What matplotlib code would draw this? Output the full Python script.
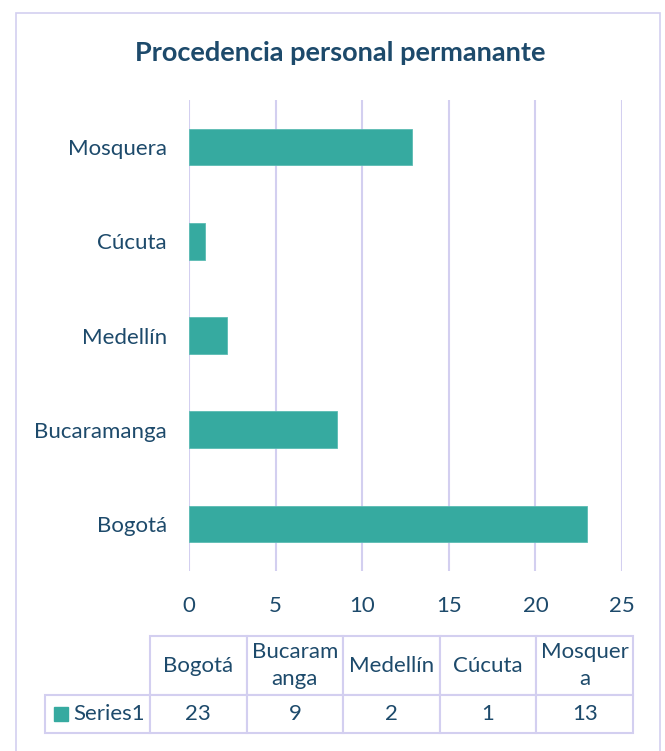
import matplotlib
matplotlib.use("Agg")
import matplotlib.pyplot as plt
from matplotlib.patches import Rectangle
from matplotlib.table import Table

# data (bars, table shows rounded values)
cities = ["Bogotá", "Bucaramanga", "Medellín", "Cúcuta", "Mosquera"]
values = [23.0, 8.55, 2.2, 0.92, 12.85]
header_labels = ["Bogotá", "Bucaram\nanga", "Medellín", "Cúcuta", "Mosquer\na"]
series_name = "Series1"
title = "Procedencia personal permanante"
xticks = [0, 5, 10, 15, 20, 25]

bar_color = "#36AAA0"
text_color = "#1D4A6B"
line_color = "#D3CFF0"
plt.rcParams["font.family"] = ["Lato", "DejaVu Sans"]

W, H = 665, 751
fig = plt.figure(figsize=(W / 100, H / 100), dpi=100)

# outer chart border
fig.patches.append(Rectangle((16 / W, -0.05), (660 - 16) / W, 1.05 - 13 / H,
                             transform=fig.transFigure, fill=False,
                             edgecolor=line_color, lw=1.2))

fig.text(340 / W, 1 - 53 / H, title, ha="center", va="center",
         fontsize=19.5, fontweight="bold", color=text_color)

ax = fig.add_axes([189 / W, 1 - 571 / H, (622 - 189) / W, (571 - 100) / H])
ax.barh(range(len(cities)), values, height=0.39, color=bar_color,
        edgecolor="#5BBCB3", lw=0.6, zorder=3)
ax.set_xlim(0, 25)
ax.set_ylim(-0.5, len(cities) - 0.5)
ax.set_xticks(xticks)
ax.set_yticks(range(len(cities)))
ax.set_yticklabels(cities)
ax.grid(axis="x", color=line_color, lw=1.5, zorder=0)
for s in ax.spines.values():
    s.set_visible(False)
ax.tick_params(axis="x", length=0, pad=18, labelsize=16, labelcolor=text_color)
ax.tick_params(axis="y", length=0, pad=16, labelsize=16, labelcolor=text_color)

# data table below
tax = fig.add_axes([45 / W, 1 - 733 / H, (633 - 45) / W, (733 - 636) / H])
tax.axis("off")
tab = Table(tax, bbox=[0, 0, 1, 1])
lw_first = 105 / 588
cw = (1 - lw_first) / len(cities)
h0, h1 = 59 / 97, 38 / 97
c = tab.add_cell(0, 0, lw_first, h0, text="")
c.visible_edges = ""
for j, lab in enumerate(header_labels):
    tab.add_cell(0, j + 1, cw, h0, text=lab, loc="center")
c = tab.add_cell(1, 0, lw_first, h1, text=series_name, loc="left")
c.PAD = 0.27
for j, v in enumerate(values):
    tab.add_cell(1, j + 1, cw, h1, text=str(round(v)), loc="center")
tab.auto_set_font_size(False)
tab.set_fontsize(16)
for cell in tab.get_celld().values():
    cell.set_edgecolor(line_color)
    cell.set_linewidth(1.5)
    cell.get_text().set_color(text_color)
    cell.get_text().set_linespacing(1.4)
tax.add_table(tab)
tax.add_patch(Rectangle((9 / 588, (733 - 721) / 97), 14 / 588, 14 / 97,
                        transform=tax.transAxes, color=bar_color))

fig.savefig("out.png", dpi=100)
